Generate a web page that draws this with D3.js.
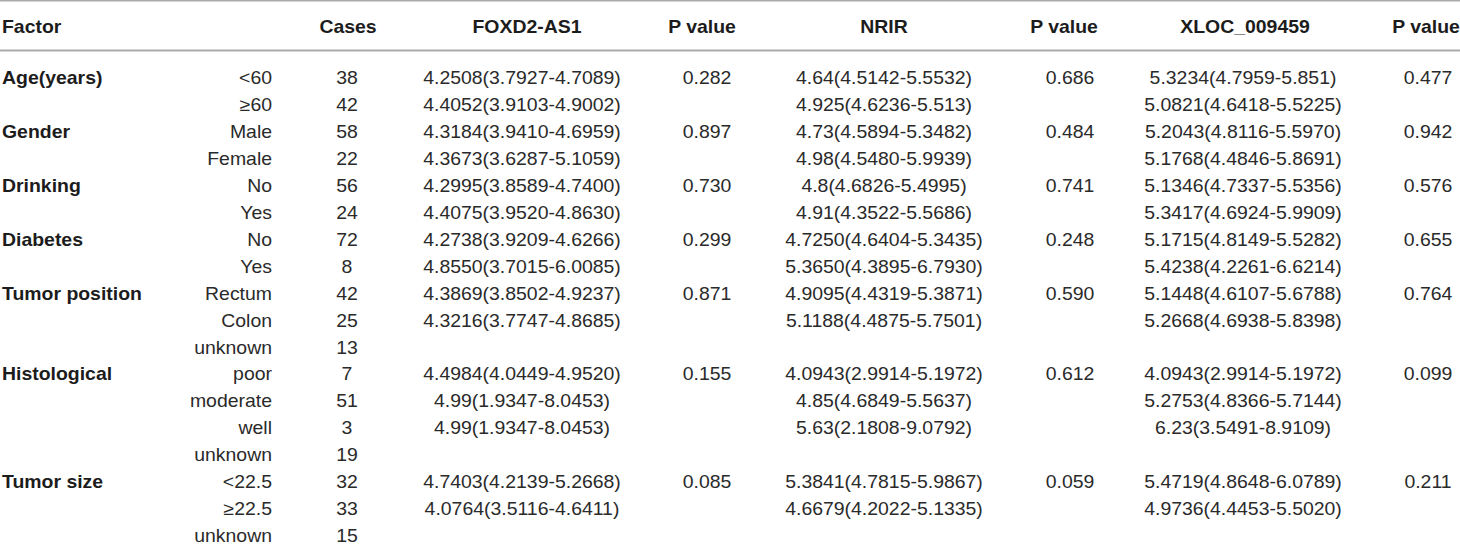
<!DOCTYPE html>
<html>
<head>
<meta charset="utf-8">
<script src="https://cdn.jsdelivr.net/npm/d3@7"></script>
<style>
  html, body { margin: 0; padding: 0; background: #fff; }
  svg text { font-family: "Liberation Sans", Arial, Helvetica, sans-serif; }
</style>
</head>
<body>
<div id="chart"></div>
<script>
const headers = ["Factor", "", "Cases", "FOXD2-AS1", "P value", "NRIR", "P value", "XLOC_009459", "P value"];

const factors = ["Age(years)", "", "Gender", "", "Drinking", "", "Diabetes", "",
  "Tumor position", "", "", "Histological", "", "", "", "Tumor size", "", ""];
const groups = ["<60", "≥60", "Male", "Female", "No", "Yes", "No", "Yes",
  "Rectum", "Colon", "unknown", "poor", "moderate", "well", "unknown", "<22.5", "≥22.5", "unknown"];
const cases = ["38", "42", "58", "22", "56", "24", "72", "8", "42", "25", "13", "7", "51", "3", "19", "32", "33", "15"];
const foxd2 = ["4.2508(3.7927-4.7089)", "4.4052(3.9103-4.9002)", "4.3184(3.9410-4.6959)", "4.3673(3.6287-5.1059)",
  "4.2995(3.8589-4.7400)", "4.4075(3.9520-4.8630)", "4.2738(3.9209-4.6266)", "4.8550(3.7015-6.0085)",
  "4.3869(3.8502-4.9237)", "4.3216(3.7747-4.8685)", "", "4.4984(4.0449-4.9520)",
  "4.99(1.9347-8.0453)", "4.99(1.9347-8.0453)", "", "4.7403(4.2139-5.2668)", "4.0764(3.5116-4.6411)", ""];
const pFoxd2 = ["0.282", "", "0.897", "", "0.730", "", "0.299", "", "0.871", "", "", "0.155", "", "", "", "0.085", "", ""];
const nrir = ["4.64(4.5142-5.5532)", "4.925(4.6236-5.513)", "4.73(4.5894-5.3482)", "4.98(4.5480-5.9939)",
  "4.8(4.6826-5.4995)", "4.91(4.3522-5.5686)", "4.7250(4.6404-5.3435)", "5.3650(4.3895-6.7930)",
  "4.9095(4.4319-5.3871)", "5.1188(4.4875-5.7501)", "", "4.0943(2.9914-5.1972)",
  "4.85(4.6849-5.5637)", "5.63(2.1808-9.0792)", "", "5.3841(4.7815-5.9867)", "4.6679(4.2022-5.1335)", ""];
const pNrir = ["0.686", "", "0.484", "", "0.741", "", "0.248", "", "0.590", "", "", "0.612", "", "", "", "0.059", "", ""];
const xloc = ["5.3234(4.7959-5.851)", "5.0821(4.6418-5.5225)", "5.2043(4.8116-5.5970)", "5.1768(4.4846-5.8691)",
  "5.1346(4.7337-5.5356)", "5.3417(4.6924-5.9909)", "5.1715(4.8149-5.5282)", "5.4238(4.2261-6.6214)",
  "5.1448(4.6107-5.6788)", "5.2668(4.6938-5.8398)", "", "4.0943(2.9914-5.1972)",
  "5.2753(4.8366-5.7144)", "6.23(3.5491-8.9109)", "", "5.4719(4.8648-6.0789)", "4.9736(4.4453-5.5020)", ""];
const pXloc = ["0.477", "", "0.942", "", "0.576", "", "0.655", "", "0.764", "", "", "0.099", "", "", "", "0.211", "", ""];

const columns = [factors, groups, cases, foxd2, pFoxd2, nrir, pNrir, xloc, pXloc];

const width = 1460;
const height = 551;
const FONT_SIZE = 18;
const STRETCH = 1.08;

// column anchor x for body cells and for header cells
const cellX = [2, 272, 347, 522, 707, 884, 1070, 1243, 1428];
const headX = [2, 272, 348, 527, 702, 884, 1064, 1245, 1426];
const anchors = ["start", "end", "middle", "middle", "middle", "middle", "middle", "middle", "middle"];

const rowIdx = d3.range(factors.length);
const y = d3.scaleLinear().domain([0, rowIdx.length - 1]).range([84, 542.2]);

const svg = d3
  .select("#chart")
  .append("svg")
  .attr("width", width)
  .attr("height", height);

// rules
const rules = svg.append("g").attr("class", "rules")
  .attr("stroke", "#aaa")
  .attr("stroke-width", 2);
rules.append("line").attr("x1", 0).attr("x2", width).attr("y1", 0.5).attr("y2", 0.5);
rules.append("line").attr("x1", 0).attr("x2", width).attr("y1", 50.5).attr("y2", 50.5);

// header
svg.append("g").attr("class", "header")
  .attr("font-size", FONT_SIZE)
  .attr("font-weight", "bold")
  .attr("fill", "#1c1c1c")
  .selectAll("text")
  .data(headers.map((h, c) => ({ h, c })).filter((d) => d.h !== ""))
  .join("text")
  .attr("text-anchor", (d) => anchors[d.c])
  .attr("transform", (d) => `translate(${headX[d.c]},33) scale(${STRETCH},1)`)
  .text((d) => d.h);

// body cells
const cells = [];
columns.forEach((col, c) => {
  col.forEach((v, r) => {
    if (v !== "") cells.push({ v, r, c });
  });
});

svg.append("g").attr("class", "body")
  .attr("font-size", FONT_SIZE)
  .selectAll("text")
  .data(cells)
  .join("text")
  .attr("font-weight", (d) => (d.c === 0 ? "bold" : "normal"))
  .attr("fill", (d) => (d.c === 0 ? "#1c1c1c" : "#2a2a2a"))
  .attr("text-anchor", (d) => anchors[d.c])
  .attr("transform", (d) => `translate(${cellX[d.c]},${y(d.r)}) scale(${STRETCH},1)`)
  .text((d) => d.v);
</script>
</body>
</html>
